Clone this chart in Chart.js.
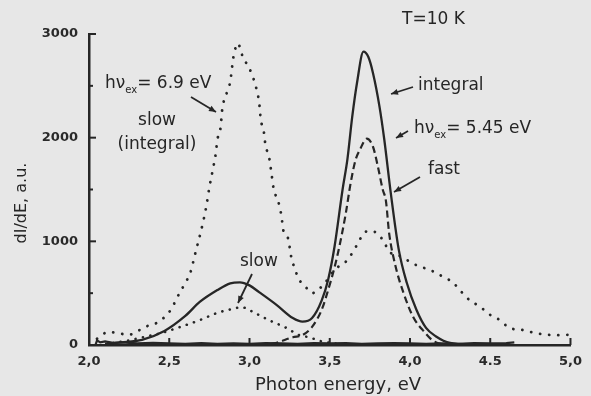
<!DOCTYPE html>
<html><head><meta charset="utf-8">
<script src="https://cdn.jsdelivr.net/npm/chart.js@4.4.0/dist/chart.umd.min.js"></script>
<style>html,body{margin:0;padding:0;background:#e7e7e7;}canvas{display:block;}</style>
</head><body>
<canvas id="c" width="591" height="396"></canvas>
<script>
// ---- data ----
const xTickLabels = ["2,0","2,5","3,0","3,5","4,0","4.5","5,0"];
const yTickLabels = ["0","1000","2000","3000"];

// hv_ex = 5.45 eV, integral (solid)
const integralE = [2.10,2.20,2.33,2.47,2.60,2.69,2.80,2.88,2.94,3.00,3.06,3.17,3.27,3.33,3.39,3.45,3.49,3.53,3.58,3.61,3.64,3.67,3.71,3.74,3.77,3.81,3.84,3.88,3.93,3.98,4.04,4.10,4.16,4.25,4.40];
const integralI = [10,25,50,135,280,415,530,595,605,575,510,385,260,225,260,430,630,950,1500,1790,2200,2530,2830,2780,2620,2300,1980,1470,920,600,340,165,85,20,5];

// hv_ex = 5.45 eV, fast (dashed)
const fastE = [3.00,3.15,3.27,3.33,3.39,3.45,3.49,3.53,3.56,3.60,3.63,3.66,3.69,3.73,3.77,3.80,3.83,3.85,3.87,3.91,3.96,4.02,4.09,4.14,4.20,4.30];
const fastI = [0,15,75,95,175,340,530,750,950,1270,1560,1780,1890,1990,1910,1720,1500,1390,1080,760,500,270,125,45,10,0];

// hv_ex = 5.45 eV, slow (dotted)
const slowE = [2.15,2.25,2.35,2.45,2.57,2.69,2.80,2.90,2.95,3.02,3.12,3.23,3.31,3.37,3.45,3.55];
const slowI = [20,45,80,115,175,240,310,350,365,320,240,165,95,75,35,10];

// hv_ex = 6.9 eV, slow (integral) (dotted)
const slow69E = [2.05,2.12,2.25,2.35,2.43,2.51,2.55,2.60,2.63,2.66,2.71,2.73,2.75,2.77,2.79,2.80,2.82,2.83,2.86,2.88,2.90,2.93,2.94,2.96,2.98,3.01,3.04,3.06,3.07,3.09,3.10,3.12,3.14,3.15,3.18,3.20,3.21,3.24,3.26,3.28,3.31,3.35,3.39,3.47,3.53,3.61,3.67,3.72,3.76,3.80,3.84,3.87,3.92,3.98,4.04,4.13,4.21,4.27,4.31,4.37,4.44,4.50,4.56,4.62,4.70,4.78,4.85,4.92,5.00];
const slow69I = [60,125,100,175,220,340,460,600,690,870,1180,1330,1520,1680,1850,1980,2100,2270,2440,2540,2780,2910,2870,2770,2720,2630,2490,2340,2180,2050,1920,1830,1620,1510,1380,1235,1110,1030,850,745,630,560,500,600,725,820,965,1090,1100,1070,990,900,870,820,770,720,655,600,530,435,365,290,240,165,145,115,100,95,100];

// near-zero baseline trace
const baseE = [2.00,2.04,2.05,2.07,2.10,2.15,2.20,2.30,2.40,2.50,2.60,2.70,2.80,2.90,3.00,3.10,3.20,3.30,3.40,3.50,3.60,3.70,3.80,3.90,4.00,4.10,4.20,4.30,4.40,4.50,4.60,4.65];
const baseI = [0,0,45,25,35,20,25,15,20,15,12,18,12,15,12,18,15,12,18,15,18,12,15,18,15,12,15,12,18,15,18,25];

const pts = (xs, ys) => xs.map((x, i) => ({x: x, y: ys[i]}));
const INK = '#262626';
const FONT = '"DejaVu Sans", sans-serif';

function arrow(ctx, x1, y1, x2, y2) {
  ctx.beginPath(); ctx.moveTo(x1, y1); ctx.lineTo(x2, y2); ctx.stroke();
  const a = Math.atan2(y2 - y1, x2 - x1), L = 7, W = 3;
  ctx.beginPath();
  ctx.moveTo(x2, y2);
  ctx.lineTo(x2 - L * Math.cos(a) + W * Math.sin(a), y2 - L * Math.sin(a) - W * Math.cos(a));
  ctx.lineTo(x2 - L * Math.cos(a) - W * Math.sin(a), y2 - L * Math.sin(a) + W * Math.cos(a));
  ctx.closePath(); ctx.fill();
}
function hvText(ctx, x, y, rest) {
  ctx.textAlign = 'left'; ctx.textBaseline = 'middle';
  ctx.font = '17px ' + FONT;
  ctx.fillText('hν', x, y);
  let w = ctx.measureText('hν').width;
  ctx.font = '10px ' + FONT;
  ctx.fillText('ex', x + w, y + 6);
  w += ctx.measureText('ex').width;
  ctx.font = '17px ' + FONT;
  ctx.fillText(rest, x + w, y);
}

const decor = {
  id: 'decor',
  beforeDraw(chart) {
    const ctx = chart.ctx;
    ctx.save(); ctx.fillStyle = '#e7e7e7'; ctx.fillRect(0, 0, chart.width, chart.height); ctx.restore();
  },
  afterDraw(chart) {
    const ctx = chart.ctx, xs = chart.scales.x, ys = chart.scales.y;
    const x0 = chart.chartArea.left, yB = chart.chartArea.bottom;
    ctx.save();
    ctx.strokeStyle = INK; ctx.fillStyle = INK; ctx.lineWidth = 2;
    [500,1000,1500,2000,2500,3000].forEach(v => {
      const py = ys.getPixelForValue(v), len = v % 1000 === 0 ? 7 : 4;
      ctx.beginPath(); ctx.moveTo(x0, py); ctx.lineTo(x0 + len, py); ctx.stroke();
    });
    [2.5,3,3.5,4,4.5,5].forEach(v => {
      const px = xs.getPixelForValue(v);
      ctx.beginPath(); ctx.moveTo(px, yB); ctx.lineTo(px, yB - 7); ctx.stroke();
    });
    ctx.font = '18px ' + FONT; ctx.textAlign = 'center'; ctx.textBaseline = 'middle';
    ctx.fillText('Photon energy, eV', 338, 385);
    ctx.save(); ctx.translate(22, 203); ctx.rotate(-Math.PI / 2);
    ctx.font = '16px ' + FONT; ctx.fillText('dI/dE, a.u.', 0, 0); ctx.restore();
    ctx.font = '17px ' + FONT; ctx.textAlign = 'left'; ctx.textBaseline = 'middle';
    ctx.fillText('T=10 K', 402, 20);
    ctx.fillText('integral', 418, 86);
    ctx.fillText('fast', 428, 170);
    ctx.fillText('slow', 240, 262);
    ctx.textAlign = 'center';
    ctx.fillText('slow', 157, 121);
    ctx.fillText('(integral)', 157, 145);
    hvText(ctx, 105, 84, '= 6.9 eV');
    hvText(ctx, 414, 129, '= 5.45 eV');
    ctx.lineWidth = 1.8;
    arrow(ctx, 191, 97, 216, 112);
    arrow(ctx, 413, 87, 391, 94);
    arrow(ctx, 408, 131, 396, 138);
    arrow(ctx, 420, 177, 394, 192);
    arrow(ctx, 252, 274, 238, 303);
    ctx.restore();
  }
};

const lineDs = (label, data, extra) => Object.assign({
  label: label, data: data, borderColor: INK, backgroundColor: INK,
  pointRadius: 0, fill: false, cubicInterpolationMode: 'monotone', borderWidth: 2.2
}, extra);

new Chart(document.getElementById('c'), {
  type: 'line',
  data: {
    datasets: [
      lineDs('baseline', pts(baseE, baseI), {borderWidth: 2.2, cubicInterpolationMode: 'default', tension: 0}),
      lineDs('6.9 eV slow (integral)', pts(slow69E, slow69I), {borderWidth: 2.8, borderDash: [0.1, 9], borderCapStyle: 'round'}),
      lineDs('5.45 eV slow', pts(slowE, slowI), {borderWidth: 2.6, borderDash: [0.1, 7.5], borderCapStyle: 'round'}),
      lineDs('5.45 eV fast', pts(fastE, fastI), {borderWidth: 2.2, borderDash: [7, 4]}),
      lineDs('5.45 eV integral', pts(integralE, integralI), {borderWidth: 2.3})
    ]
  },
  options: {
    responsive: false, animation: false,
    layout: {padding: {top: 34, right: 12, left: 0, bottom: 0}},
    plugins: {legend: {display: false}, tooltip: {enabled: false}},
    scales: {
      x: {
        type: 'linear', min: 2, max: 5,
        afterFit: s => { s.height = 51; },
        grid: {display: true, drawOnChartArea: false, drawTicks: false},
        border: {display: true, color: INK, width: 2.5},
        ticks: {stepSize: 0.5, padding: 9, color: '#2a2a2a', font: {family: 'DejaVu Sans', size: 13, weight: 'bold'},
                autoSkip: false, maxRotation: 0,
                callback: (v, i) => xTickLabels[i]}
      },
      y: {
        type: 'linear', min: 0, max: 3000,
        afterFit: s => { s.width = 89; },
        grid: {display: true, drawOnChartArea: false, drawTicks: false},
        border: {display: true, color: INK, width: 2.5},
        ticks: {stepSize: 1000, padding: 11, color: '#2a2a2a', font: {family: 'DejaVu Sans', size: 13, weight: 'bold'},
                callback: (v, i) => yTickLabels[i]}
      }
    }
  },
  plugins: [decor]
});
</script>
</body></html>
